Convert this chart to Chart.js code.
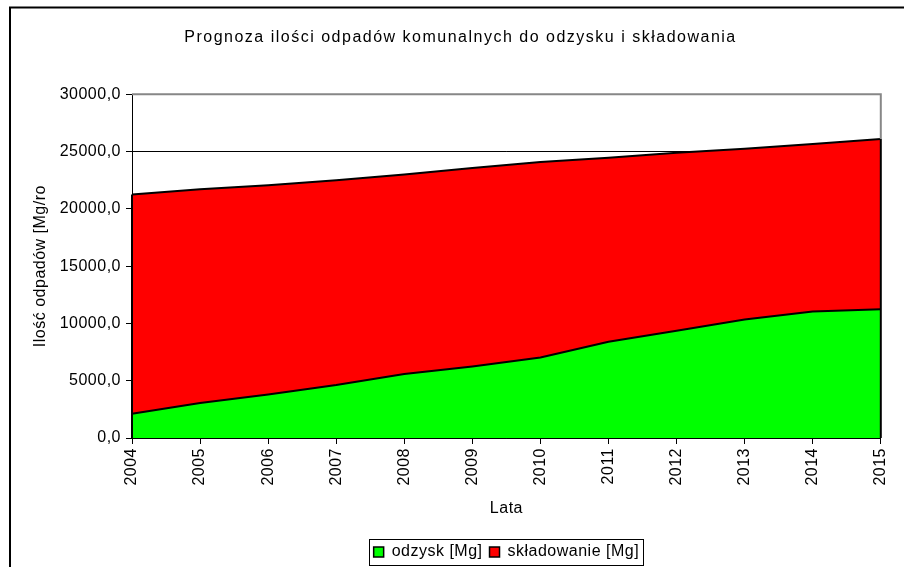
<!DOCTYPE html>
<html>
<head>
<meta charset="utf-8">
<script src="https://cdn.jsdelivr.net/npm/chart.js@4/dist/chart.umd.min.js"></script>
<style>
  html, body { margin: 0; padding: 0; background: #fff; }
  #wrap { width: 904px; height: 567px; }
</style>
</head>
<body>
<div id="wrap"><canvas id="myChart" width="904" height="567"></canvas></div>
<script>
// lata prognozy
let years = ['2004', '2005', '2006', '2007', '2008', '2009', '2010', '2011', '2012', '2013', '2014', '2015'];
// odpady kierowane do odzysku [Mg]
let odzysk = [2120, 3050, 3800, 4620, 5580, 6240, 7030, 8400, 9350, 10350, 11030, 11230];
// odpady kierowane do składowania [Mg]
let skladowanie = [19130, 18650, 18250, 17880, 17420, 17310, 17050, 16050, 15550, 14880, 14630, 14870];

Chart.defaults.font.family = '"Liberation Sans", Arial, sans-serif';
Chart.defaults.font.size = 16;
Chart.defaults.color = '#000';

// ramka wokół całego wykresu, szara ramka obszaru kreślenia i pionowe krawędzie obszarów
let frames = {
    id: 'frames',
    beforeUpdate(chart) {
        chart.ctx.letterSpacing = '0.5px';
    },
    afterLayout(chart) {
        // tytuł wyśrodkowany na całej ramce, legenda pod obszarem kreślenia
        let tb = chart.titleBlock;
        tb.left = 10;
        tb.right = 911;
        if (!tb._spaced) {
            let draw = tb.draw;
            tb.draw = function () {
                chart.ctx.letterSpacing = '1.5px';
                draw.call(this);
                chart.ctx.letterSpacing = '0.5px';
            };
            tb._spaced = true;
        }
        let lg = chart.legend;
        lg.left = chart.chartArea.left;
        lg.right = chart.chartArea.right;
        lg.top += 3;
        lg.bottom += 3;
    },
    beforeDraw(chart) {
        let ctx = chart.ctx;
        ctx.letterSpacing = '0.5px';
        ctx.save();
        ctx.fillStyle = '#fff';
        ctx.fillRect(0, 0, chart.width, chart.height);
        ctx.restore();
    },
    afterDatasetsDraw(chart) {
        let ctx = chart.ctx;
        let a = chart.chartArea;
        let top = chart.getDatasetMeta(1).data;
        let bottom = chart.scales.y.getPixelForValue(0);
        ctx.save();
        // krawędzie boczne obszarów
        ctx.strokeStyle = '#000';
        ctx.lineWidth = 2;
        [top[0], top[top.length - 1]].forEach(p => {
            ctx.beginPath();
            ctx.moveTo(p.x, p.y);
            ctx.lineTo(p.x, bottom);
            ctx.stroke();
        });
        // szara ramka obszaru kreślenia (góra i prawa strona)
        ctx.strokeStyle = '#878787';
        ctx.lineWidth = 2;
        ctx.beginPath();
        ctx.moveTo(a.left, a.top);
        ctx.lineTo(a.right, a.top);
        ctx.lineTo(a.right, top[top.length - 1].y);
        ctx.stroke();
        ctx.restore();
    },
    afterDraw(chart) {
        let ctx = chart.ctx;
        ctx.save();
        ctx.strokeStyle = '#000';
        ctx.lineWidth = 2;
        ctx.strokeRect(10, 7.5, chart.width + 20, chart.height + 20);
        // ramka legendy
        let boxes = chart.legend.legendHitBoxes;
        if (boxes && boxes.length) {
            let l = Math.min(...boxes.map(b => b.left));
            let r = Math.max(...boxes.map(b => b.left + b.width));
            let t = Math.min(...boxes.map(b => b.top));
            let b2 = Math.max(...boxes.map(b => b.top + b.height));
            ctx.lineWidth = 1;
            ctx.strokeRect(Math.round(l) - 4.5, Math.round(t) - 4.5, Math.round(r - l) + 9, Math.round(b2 - t) + 10);
        }
        ctx.restore();
    }
};

new Chart(document.getElementById('myChart'), {
    type: 'line',
    data: {
        labels: years,
        datasets: [{
            label: 'odzysk [Mg]',
            data: odzysk,
            backgroundColor: '#00ff00',
            borderColor: '#000',
            borderWidth: 2,
            fill: 'origin',
            pointRadius: 0,
            tension: 0
        }, {
            label: 'składowanie [Mg]',
            data: skladowanie,
            backgroundColor: '#ff0000',
            borderColor: '#000',
            borderWidth: 2,
            fill: '-1',
            pointRadius: 0,
            tension: 0
        }]
    },
    options: {
        responsive: false,
        animation: false,
        layout: { padding: { left: 10, right: 23, top: 0, bottom: 0 } },
        plugins: {
            title: {
                display: true,
                text: 'Prognoza ilości odpadów komunalnych do odzysku i składowania',
                font: { size: 16, weight: 'normal' },
                padding: { top: 28, bottom: 47 }
            },
            legend: {
                position: 'bottom',
                labels: {
                    boxWidth: 10,
                    boxHeight: 10,
                    padding: 7,
                    font: { size: 16 },
                    generateLabels(chart) {
                        let items = Chart.defaults.plugins.legend.labels.generateLabels(chart);
                        items.forEach(it => { it.lineWidth = 1.5; it.strokeStyle = '#000'; });
                        return items;
                    }
                }
            },
            tooltip: { enabled: false }
        },
        scales: {
            x: {
                offset: false,
                grid: { drawOnChartArea: false, drawTicks: true, tickLength: 6, color: '#000' },
                border: { color: '#000', width: 1 },
                ticks: { minRotation: 90, maxRotation: 90, autoSkip: false, padding: 4, font: { size: 16 } },
                title: { display: true, text: 'Lata', font: { size: 16 }, padding: { top: 4, bottom: 16 } },
                afterFit(scale) { scale.height = 96; }
            },
            y: {
                stacked: true,
                min: 0,
                max: 30000,
                grid: { color: '#000', lineWidth: 1, drawTicks: true, tickLength: 6 },
                border: { color: '#000', width: 1 },
                ticks: {
                    stepSize: 5000,
                    padding: 5,
                    font: { size: 16 },
                    callback: v => v.toFixed(1).replace('.', ',')
                },
                title: { display: true, text: 'Ilość odpadów [Mg/ro', font: { size: 16 }, padding: { top: 21, bottom: 0 } },
                afterFit(scale) { scale.width = 122; }
            }
        }
    },
    plugins: [frames]
});
</script>
</body>
</html>
